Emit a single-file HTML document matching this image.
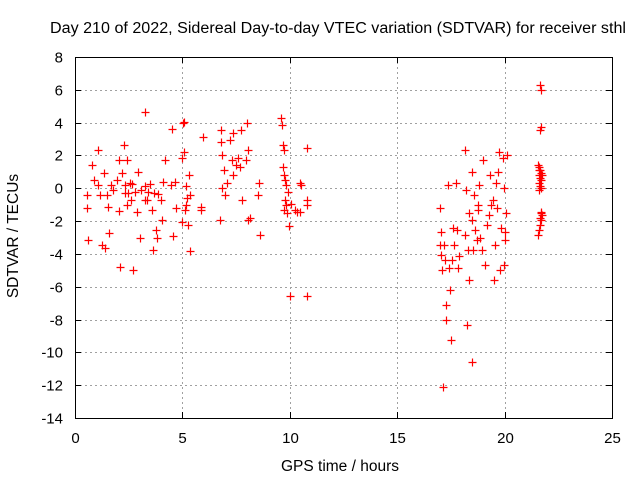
<!DOCTYPE html>
<html><head><meta charset="utf-8"><style>
body{margin:0;background:#fff}
svg{display:block;font-family:"Liberation Sans",sans-serif}
</style></head><body>
<svg id="chart" width="640" height="480">
<text x="338" y="33" text-anchor="middle" font-size="15.5" textLength="576" lengthAdjust="spacingAndGlyphs">Day 210 of 2022, Sidereal Day-to-day VTEC variation (SDTVAR) for receiver sthl</text>
<text x="340" y="471" text-anchor="middle" font-size="15.5">GPS time / hours</text>
<text transform="translate(18,236) rotate(-90)" text-anchor="middle" font-size="15.5">SDTVAR / TECUs</text>
<g id="grid"></g>
<g id="ticks"></g>
<g id="points"></g>
<rect x="75.5" y="57.5" width="537" height="361" fill="none" stroke="#000" stroke-width="1"/>
</svg>
<script>
const xTicks=[0,5,10,15,20,25];
const yTicks=[8,6,4,2,0,-2,-4,-6,-8,-10,-12,-14];
const hours=[0.56,0.56,0.61,0.79,0.88,1.07,1.07,1.16,1.26,1.35,1.40,1.49,1.54,1.58,1.68,1.77,1.96,2.05,2.05,2.09,2.19,2.28,2.33,2.33,2.42,2.42,2.47,2.56,2.61,2.65,2.70,2.79,2.89,2.93,3.03,3.07,3.26,3.26,3.35,3.40,3.49,3.58,3.63,3.68,3.77,3.82,3.86,4.00,4.05,4.10,4.19,4.47,4.52,4.56,4.66,4.70,4.98,5.03,5.07,5.12,5.17,5.21,5.26,5.35,3.26,4.98,
5.07,5.17,5.31,5.35,5.96,5.87,6.80,6.80,6.84,6.94,6.98,7.08,7.22,7.31,7.36,7.50,7.59,7.68,7.77,7.96,8.01,8.05,8.05,8.57,8.61,8.52,5.87,6.75,7.36,6.84,7.73,8.15,
9.59,9.64,9.68,9.73,9.68,9.73,9.78,9.82,9.78,9.82,9.87,9.73,9.92,9.96,10.01,10.06,10.24,10.34,10.47,10.47,10.52,10.80,10.80,10.80,10.80,
16.99,17.04,16.99,17.04,17.09,17.13,17.18,17.23,17.27,17.27,17.37,17.41,17.46,17.50,17.55,17.60,17.64,17.74,17.78,17.83,17.88,18.16,18.16,18.20,18.25,18.30,18.34,18.34,18.48,18.48,18.53,18.48,18.58,18.62,18.72,18.76,18.76,18.81,18.85,18.95,18.99,19.09,19.18,19.27,19.32,19.37,19.46,19.51,19.55,19.60,19.65,19.69,19.74,19.79,19.83,19.93,19.97,20.02,20.02,20.07,19.97,20.11,
21.65,21.69,21.69,21.65,21.55,21.60,21.60,21.65,21.69,21.60,21.65,21.69,21.65,21.74,21.60,21.69,21.74,21.69,21.65,21.60,21.55,21.65,21.69,21.58,21.70];
const values=[-0.41,-1.20,-3.15,1.42,0.51,2.34,0.20,-0.41,-3.46,0.93,-3.64,-0.41,-1.14,-2.72,0.20,-0.10,0.51,1.72,-1.38,-4.79,0.93,2.64,0.20,-0.29,1.72,-1.02,-0.29,0.32,-0.71,0.26,-4.97,-0.23,-1.44,0.99,-3.03,-0.10,4.65,0.14,-0.71,-0.23,0.26,-1.32,-3.76,-0.29,-2.54,-3.03,-0.35,-0.71,-1.93,0.38,1.72,0.20,3.61,-2.91,0.38,-1.20,1.85,3.98,2.21,-1.32,0.14,-0.59,-2.24,-3.82,-0.71,-2.06,
4.04,-1.02,0.81,-0.41,3.13,-1.32,2.82,3.55,2.03,1.12,-0.41,0.32,2.94,1.72,0.81,1.42,1.85,1.30,-0.71,1.72,3.98,2.34,-1.93,0.32,-2.85,-0.41,-1.14,-1.93,3.37,0.02,3.55,-1.81,
4.28,3.86,2.64,2.34,1.30,0.81,0.51,0.20,-0.71,-1.02,-1.51,-1.32,-0.23,-2.30,-6.56,-0.96,-1.32,-1.44,0.32,-1.44,0.20,2.46,-0.71,-1.02,-6.56,
-1.20,-2.66,-3.46,-4.06,-4.97,-12.11,-3.46,-4.36,-7.11,-8.03,0.20,-4.85,-6.19,-9.24,-4.36,-2.42,-3.46,0.32,-2.54,-4.85,-4.12,2.34,-2.85,-0.10,-8.33,-3.76,-5.58,-1.51,0.99,-1.93,-3.76,-10.59,-0.41,-2.54,-3.15,-1.32,-1.02,0.20,-3.03,-3.76,1.72,-4.67,-2.24,-1.63,0.81,-1.02,-0.71,-5.58,-3.46,0.32,-1.20,0.99,2.21,-4.97,-2.42,1.85,-4.67,-2.66,-3.15,-1.51,0.02,2.03,
6.29,5.99,3.74,3.55,1.42,1.12,0.81,0.63,0.51,0.32,0.14,0.02,1.12,0.81,-0.10,-1.44,-1.63,-1.93,-2.24,-2.54,-2.85,-1.81,0.93,1.30,-1.50];
const NS="http://www.w3.org/2000/svg";
const X0=75,X1=612,Y0=57,Y1=418,XMIN=0,XMAX=25,YMIN=-14,YMAX=8;
function sx(v){return X0+(v-XMIN)/(XMAX-XMIN)*(X1-X0);}
function sy(v){return Y1-(v-YMIN)/(YMAX-YMIN)*(Y1-Y0);}
function mk(tag,a){const e=document.createElementNS(NS,tag);for(const k in a)e.setAttribute(k,a[k]);return e;}
const grid=document.getElementById('grid'),ticks=document.getElementById('ticks'),pts=document.getElementById('points');
xTicks.forEach(t=>{const x=Math.round(sx(t))+0.5;
 if(t>XMIN&&t<XMAX){const g=mk('line',{x1:x,x2:x,y1:Y0,y2:Y1,stroke:'#a0a0a0','stroke-dasharray':'2,3'});
 
 grid.appendChild(g);}
 const tk=mk('path',{d:`M${x} ${Y1}v-6M${x} ${Y0}v6`,stroke:'#000'});
 
 ticks.appendChild(tk);
 const l=mk('text',{x:x,y:Y1+25,'text-anchor':'middle','font-size':'15'});l.textContent=t;
 
 ticks.appendChild(l);});
yTicks.forEach(t=>{const y=Math.round(sy(t))+0.5;
 if(t>YMIN&&t<YMAX){const g=mk('line',{x1:X0,x2:X1,y1:y,y2:y,stroke:'#a0a0a0','stroke-dasharray':'2,3'});
 
 grid.appendChild(g);}
 const tk=mk('path',{d:`M${X0} ${y}h6M${X1} ${y}h-6`,stroke:'#000'});
 
 ticks.appendChild(tk);
 const l=mk('text',{x:X0-12,y:y+5,'text-anchor':'end','font-size':'15'});l.textContent=t;
 
 ticks.appendChild(l);});
hours.forEach((h,i)=>{const x=Math.round(sx(h))+0.5,y=Math.round(sy(values[i]))+0.5;
 const p=mk('path',{d:`M${x-4} ${y}h8M${x} ${y-4}v8`,stroke:'#ff0000','stroke-width':'1.2'});
 
 pts.appendChild(p);});
</script>
</body></html>
